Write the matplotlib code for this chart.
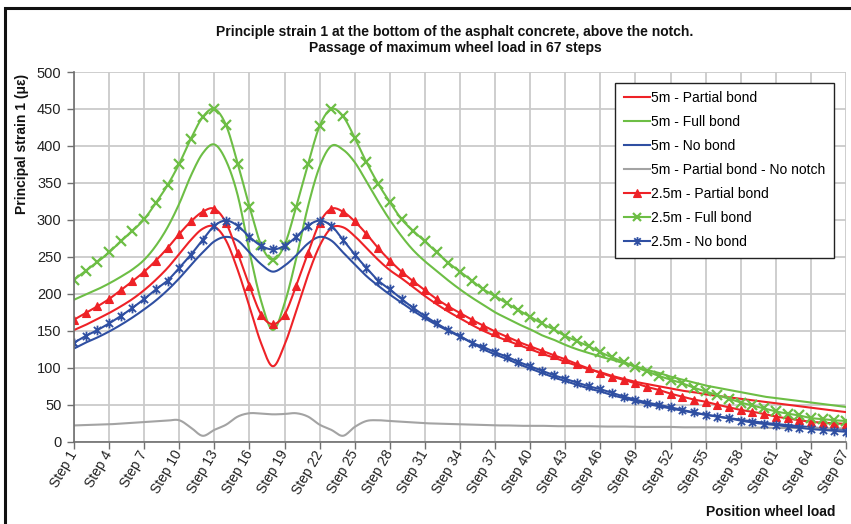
import numpy as np
import matplotlib
matplotlib.use("Agg")
import matplotlib.pyplot as plt
import matplotlib.transforms as mtransforms
from matplotlib.path import Path
from matplotlib.patches import Rectangle
from matplotlib.lines import Line2D

plt.rcParams['font.family'] = ['Liberation Sans', 'DejaVu Sans']

steps = np.arange(1, 68)
tick_steps = list(range(1, 68, 3))
tick_labels = [f"Step {s}" for s in tick_steps]

title = ("Principle strain 1 at the bottom of the asphalt concrete, above the notch.\n"
         "Passage of maximum wheel load in 67 steps")
ylabel = "Principal strain 1 (\u03bc\u03b5)"
xlabel = "Position wheel load"

red_5m = [151, 158, 166, 174, 183, 193, 205, 219, 235, 254, 273, 288, 291,
          272, 232, 183, 133, 102,
          131, 177, 225, 265, 289,
          290, 278, 262, 246, 232, 221, 209, 197, 186, 176, 167, 158, 150, 143, 137, 131, 125,
          119, 114, 108, 103, 98, 94, 89, 85, 81, 78, 75, 72, 69, 67, 64, 62, 60, 58, 56, 54,
          52, 50, 48, 46, 44, 42, 40]
green_5m = [192, 199, 206, 214, 223, 233, 246, 265, 290, 322, 360, 390, 402,
            380, 333, 257, 190, 151,
            187, 248, 318, 372, 400,
            395, 378, 352, 325, 300, 278, 259, 244, 231, 218, 206, 195, 185, 175, 167, 159, 152,
            144, 138, 131, 125, 120, 115, 111, 106, 102, 97, 93, 88, 84, 80, 76, 73, 70, 67, 64,
            61, 59, 57, 55, 53, 51, 49, 47]
blue_5m = [126, 134, 141, 149, 158, 168, 179, 191, 205, 221, 239, 256, 271,
           277, 272, 256, 240, 230,
           238, 252, 268, 277, 272,
           256, 240, 224, 211, 199, 188, 177, 167, 158, 150, 142, 134,
           125, 118, 112, 105, 99, 93, 87, 82, 77, 72, 68, 63, 59, 55, 51, 48, 45, 42, 39,
           36.5, 34, 32, 29.5, 27.5, 25.5, 24, 22.5, 21, 19.5, 18, 17, 16]
gray_5m = [22, 22.5, 23, 23.5, 24.5, 25.5, 26.5, 27.5, 28.5, 29, 19, 8, 16, 23, 34, 38.5, 38, 37,
           37.5, 38.5, 34, 23, 16, 8, 20, 28, 29, 28, 27, 26, 25, 24.5, 24, 23.5, 23, 22.5,
           22, 22, 21.5, 21.5, 21.5, 21, 21, 21, 21, 20.5, 20.5, 20.5, 20, 20, 20, 20, 19.5,
           19.5, 19.5, 19.5, 19, 19, 19, 19, 18.5, 18.5, 18.5, 18.5, 18, 18, 18]
red_25 = [165, 174, 183, 193, 205, 217, 230, 245, 262, 281, 298, 311, 315, 296, 255, 211, 172, 159,
          172, 211, 255, 296, 315, 311, 298, 281, 262, 245, 230, 217, 205, 193, 183, 174, 165,
          157, 149, 142, 135, 129, 123, 117, 111.5, 105, 99, 93, 88, 83.5, 79, 74, 70, 65, 61,
          57, 54, 50, 46.5, 43, 40.5, 37.5, 34, 31.5, 29, 27, 25.7, 25, 24]
green_25 = [219, 231, 243, 256, 271, 285, 301, 323, 347, 376, 410, 439, 450, 428, 376, 318, 266, 246,
            266, 318, 375, 427, 450, 440, 411, 378, 349, 324, 301, 285, 271, 256, 242, 230, 218,
            206, 197, 187, 178, 169, 160, 152, 143, 136, 129, 121, 114, 108, 101, 95, 89, 84, 79,
            73, 68, 63, 58, 53, 49, 45, 41, 38, 35.5, 32, 30.5, 29, 28]
blue_25 = [134, 143, 151, 160, 170, 181, 193, 206, 218, 235, 253, 273, 292, 299, 292, 277, 265, 260,
           265, 277, 292, 299, 292, 273, 253, 235, 218, 206, 193, 181, 170, 160, 151, 143, 134,
           128, 121, 115, 108, 102, 96, 90, 85, 80, 75, 71, 66, 61, 57, 53, 50, 46.5, 43, 39.5,
           36.5, 34, 31.5, 28.5, 26, 24, 22.5, 20.5, 19, 17, 16, 14.5, 13.5]

labels = ["5m - Partial bond", "5m - Full bond", "5m - No bond", "5m - Partial bond - No notch",
          "2.5m - Partial bond", "2.5m - Full bond", "2.5m - No bond"]

RED = '#EE2227'
GREEN = '#6DBE45'
BLUE = '#2F4FA2'
GRAY = '#A3A3A3'

star = Path([(-1, -1), (1, 1), (-1, 1), (1, -1), (0, -1.35), (0, 1.35)],
            [Path.MOVETO, Path.LINETO, Path.MOVETO, Path.LINETO, Path.MOVETO, Path.LINETO])


def smooth(x, y, n=12):
    """Excel-like smoothed line: cubic Bezier through the data points."""
    x = np.asarray(x, float)
    y = np.asarray(y, float)
    px = np.concatenate([[x[0]], x, [x[-1]]])
    py = np.concatenate([[y[0]], y, [y[-1]]])
    xs, ys = [x[0]], [y[0]]
    t = np.linspace(0, 1, n + 1)[1:]
    for i in range(len(x) - 1):
        p0 = np.array([px[i + 1], py[i + 1]])
        p3 = np.array([px[i + 2], py[i + 2]])
        c1 = p0 + (p3 - np.array([px[i], py[i]])) / 6.0
        c2 = p3 - (np.array([px[i + 3], py[i + 3]]) - p0) / 6.0
        b = ((1 - t) ** 3)[:, None] * p0 + (3 * (1 - t) ** 2 * t)[:, None] * c1 \
            + (3 * (1 - t) * t ** 2)[:, None] * c2 + (t ** 3)[:, None] * p3
        xs.extend(b[:, 0])
        ys.extend(b[:, 1])
    return np.array(xs), np.array(ys)


W, H = 851, 524
fig = plt.figure(figsize=(W / 100, H / 100), dpi=100)
ax = fig.add_axes([74 / W, 1 - 441.7 / H, (846 - 74) / W, (441.7 - 72) / H])

lw = 1.5
series = [
    (red_5m, RED, None, {}),
    (green_5m, GREEN, None, {}),
    (blue_5m, BLUE, None, {}),
    (gray_5m, GRAY, None, {}),
    (red_25, RED, '^', dict(ms=6, mec=RED, mfc=RED, mew=0.8)),
    (green_25, GREEN, 'x', dict(ms=6.5, mew=1.6, mec=GREEN)),
    (blue_25, BLUE, star, dict(ms=7, mew=1.3, mec=BLUE)),
]
handles = []
for (vals, col, mk, mkw), lab in zip(series, labels):
    sx, sy = smooth(steps, vals)
    z = 4 if mk is not None else 3
    ax.plot(sx, sy, color=col, lw=lw, zorder=z, solid_capstyle='round')
    if mk is not None:
        ax.plot(steps, vals, ls='none', marker=mk, zorder=z, **mkw)
        handles.append(Line2D([], [], color=col, lw=lw, marker=mk, **mkw))
    else:
        handles.append(Line2D([], [], color=col, lw=lw))

ax.set_xlim(1, 67)
ax.set_ylim(0, 500)
ax.set_yticks(np.arange(0, 501, 50))
ax.set_xticks(tick_steps)
ax.set_xticklabels(tick_labels, rotation=60, ha='right', va='center', rotation_mode='anchor',
                   fontsize=10)
shift = mtransforms.ScaledTranslation(-3 / 100, -4 / 100, fig.dpi_scale_trans)
for lbl in ax.get_xticklabels():
    lbl.set_transform(lbl.get_transform() + shift)
ax.tick_params(axis='y', labelsize=10.5, length=5, color='#707070', width=1, pad=4,
               labelcolor='#222222')
ax.tick_params(axis='x', length=5, color='#707070', width=1, pad=2, labelcolor='#222222')
ax.grid(True, color='#CACACA', lw=1.3, zorder=0)
ax.set_axisbelow(True)
for s in ['top', 'right']:
    ax.spines[s].set_visible(False)
for s in ['left', 'bottom']:
    ax.spines[s].set_color('#6E6E6E')
    ax.spines[s].set_linewidth(1.2)
    ax.spines[s].set_zorder(5)

leg = ax.legend(handles=handles, labels=labels, loc='upper right',
                bbox_to_anchor=(834 / W, 1 - 83 / H),
                bbox_transform=fig.transFigure, fontsize=10, frameon=True, fancybox=False,
                edgecolor='#222222', framealpha=1, handlelength=1.9, handletextpad=0.1,
                labelspacing=0.72, borderpad=0.6, markerscale=0.9, numpoints=1,
                borderaxespad=0)
leg.get_frame().set_linewidth(1.0)
leg.set_zorder(10)

fig.text(455 / W, 1 - 40 / H, title, ha='center', va='center', fontsize=10,
         fontweight='bold', linespacing=1.25, color='#111111')
fig.text(22 / W, 1 - 144 / H, ylabel, rotation=90, ha='center', va='center', fontsize=10,
         fontweight='bold', color='#111111')
fig.text(836 / W, 1 - 512 / H, xlabel, ha='right', va='center', fontsize=10,
         fontweight='bold', color='#111111')

fig.patches.append(Rectangle((5 / W, -0.1), 2.0, 1.1 - 8 / H, transform=fig.transFigure,
                             fill=False, lw=2.2, edgecolor='#111111', zorder=20))

fig.savefig('out.png', dpi=100)
